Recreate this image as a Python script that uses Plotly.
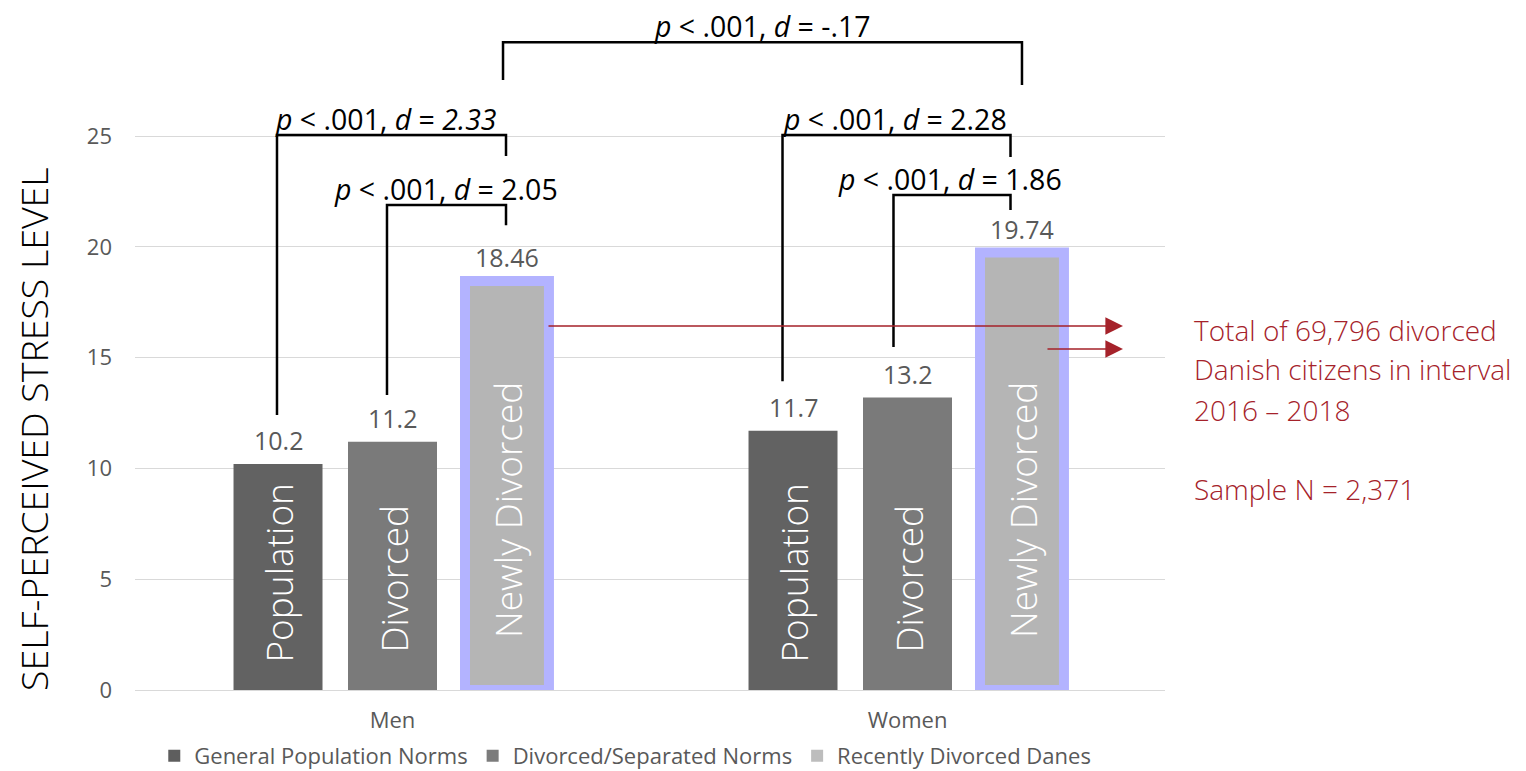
import plotly.graph_objects as go

# ---------------- data ----------------
groups = ["Men", "Women"]
series_names = ["General Population Norms", "Divorced/Separated Norms", "Recently Divorced Danes"]
bar_labels = ["Population", "Divorced", "Newly Divorced"]
general_pop = [10.2, 11.7]
divorced_sep = [11.2, 13.2]
recently_div = [18.46, 19.74]
y_ticks = [0, 5, 10, 15, 20, 25]

# significance brackets (axis units)
bracket_text = [
    "<i>p</i> &lt; .001, <i>d</i> = <i>2.33</i>",
    "<i>p</i> &lt; .001, <i>d</i> = 2.05",
    "<i>p</i> &lt; .001, <i>d</i> = 2.28",
    "<i>p</i> &lt; .001, <i>d</i> = 1.86",
    "<i>p</i> &lt; .001, <i>d</i> = -.17",
]
bracket_left_x = [-0.2243, -0.0107, 0.7573, 0.9728, 0.2146]
bracket_right_x = [0.2204, 0.2204, 1.2000, 1.2000, 1.2223]
bracket_top = [25.05, 21.89, 25.05, 22.34, 29.24]
bracket_left_end = [12.41, 13.31, 13.94, 15.48, 27.53]
bracket_right_end = [24.10, 20.98, 24.05, 21.66, 27.30]
bracket_label_x = [-0.0126, 0.104, 0.9757, 1.0825, 0.7175]

# arrows towards the side note
arrow_tail_x = [0.30, 1.2689]
arrow_y = [16.43, 15.39]
arrow_head_x = 1.4184

note_lines = ["Total of 69,796 divorced", "Danish citizens in interval", "2016 \u2013 2018", "Sample N = 2,371"]
note_y = [0.5294, 0.4721, 0.4118, 0.2956]

# ---------------- style ----------------
bar_colors = ["#626262", "#7A7A7A", "#B5B5B5"]
legend_colors = ["#5E5E5E", "#7C7C7C", "#BDBDBD"]
border_color = "#B3B3FF"
text_gray = "#595959"
red = "#A5222A"
FONT = "Open Sans"
slot = 0.2223
widths = [0.1728, 0.1728, 0.163]
label_shift = [25, 35, 50]

series_values = [general_pop, divorced_sep, recently_div]

fig = go.Figure()
for i, (name, vals) in enumerate(zip(series_names, series_values)):
    xs = [g + (i - 1) * slot for g in range(len(groups))]
    marker = dict(color=bar_colors[i])
    if i == 2:
        marker["line"] = dict(color=border_color, width=10)
    else:
        marker["line"] = dict(width=0)
    fig.add_trace(go.Bar(x=xs, y=vals, width=widths[i], marker=marker,
                         name=name, showlegend=False, hoverinfo="skip"))

# legend entries
for i, name in enumerate(series_names):
    fig.add_trace(go.Bar(x=[None], y=[None], name=name,
                         marker=dict(color=legend_colors[i], line=dict(width=0))))

annotations = []
shapes = []

# value labels and in-bar labels
for i, vals in enumerate(series_values):
    for g, v in enumerate(vals):
        xc = g + (i - 1) * slot
        annotations.append(dict(x=xc, y=v, xref="x", yref="y", text=f"{v:g}",
                                showarrow=False, yanchor="middle", yshift=24,
                                font=dict(family=FONT, size=25, color=text_gray)))
        annotations.append(dict(x=xc, y=0, xref="x", yref="y", text=bar_labels[i],
                                showarrow=False, textangle=-90, yanchor="bottom",
                                xanchor="center", yshift=label_shift[i],
                                font=dict(family=FONT, size=37, color="white", weight=300)))

# brackets
for t, lx, rx, top, le, re_, tx in zip(bracket_text, bracket_left_x, bracket_right_x,
                                        bracket_top, bracket_left_end, bracket_right_end,
                                        bracket_label_x):
    shapes.append(dict(type="path", xref="x", yref="y",
                       path=f"M {lx},{le} L {lx},{top} L {rx},{top} L {rx},{re_}",
                       line=dict(color="black", width=2.5)))
    annotations.append(dict(x=tx, y=top, xref="x", yref="y", text=t, showarrow=False,
                            yanchor="bottom", yshift=-5,
                            font=dict(family=FONT, size=28.5, color="black")))

# arrows
for ax_, ay_, w in zip(arrow_tail_x, arrow_y, [1.6, 1.3]):
    annotations.append(dict(x=arrow_head_x, y=ay_, ax=ax_, ay=ay_, xref="x", yref="y",
                            axref="x", ayref="y", text="", showarrow=True,
                            arrowhead=2, arrowsize=2.2 * 1.6 / w, arrowwidth=w, arrowcolor=red,
                            standoff=0, startstandoff=0))

# side note
for line, yy in zip(note_lines, note_y):
    annotations.append(dict(x=1.0262, y=yy, xref="paper", yref="paper", text=line,
                            showarrow=False, xanchor="left", yanchor="middle",
                            font=dict(family=FONT, size=28, color=red, weight=300)))

# y-axis title
annotations.append(dict(x=-0.098, y=0.384, xref="paper", yref="paper",
                        text="SELF-PERCEIVED STRESS LEVEL", showarrow=False,
                        textangle=-90, xanchor="center", yanchor="middle",
                        font=dict(family=FONT, size=37.5, color="black", weight=300)))

# the page places the figure 8 px from the top-left corner; margins compensate
fig.update_layout(
    width=1526, height=771,
    margin=dict(l=127, r=369, t=2, b=89, autoexpand=False),
    plot_bgcolor="white", paper_bgcolor="white",
    barmode="overlay",
    annotations=annotations, shapes=shapes,
    legend=dict(orientation="h", x=0.476, xanchor="center", y=-0.097, yanchor="middle",
                font=dict(family=FONT, size=22, color=text_gray),
                itemwidth=30, traceorder="normal"),
    xaxis=dict(range=[-0.5, 1.5], tickvals=list(range(len(groups))), ticktext=groups,
               showgrid=False, zeroline=False, showline=True, linecolor="#D9D9D9",
               linewidth=1, ticks="", ticklabelstandoff=11,
               tickfont=dict(family=FONT, size=22, color=text_gray)),
    yaxis=dict(range=[0, 30.69], tickvals=y_ticks, showgrid=True, gridcolor="#D9D9D9",
               gridwidth=1, zeroline=False, showline=False, ticks="",
               ticklabelstandoff=22,
               tickfont=dict(family=FONT, size=22, color=text_gray)),
)

fig.write_html("out.html")
